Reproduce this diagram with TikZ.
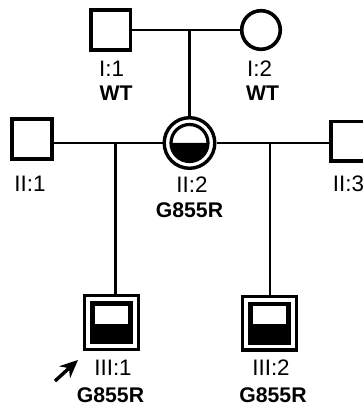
\documentclass[tikz,border=0pt]{standalone}
\usepackage{fontspec}
\setmainfont{Liberation Sans}
\usetikzlibrary{arrows.meta}

\begin{document}
\begin{tikzpicture}[x=0.5pt, y=-0.5pt,
    male/.style={rectangle, draw, line width=1.8pt, minimum size=19.8pt, inner sep=0pt},
    female/.style={circle, draw, line width=1.8pt, minimum size=19.3pt, inner sep=0pt},
    carrier/.style={circle, draw, line width=1.7pt, minimum size=25.3pt, inner sep=0pt,
        path picture={
            \fill[black] ([xshift=-9.25pt]path picture bounding box.center) arc[start angle=180, end angle=360, radius=9.25pt] -- cycle;
            \draw[line width=1.6pt] (path picture bounding box.center) circle[radius=9.25pt];
        }},
    affected/.style={rectangle, draw, line width=1.7pt, minimum size=26.8pt, inner sep=0pt,
        path picture={
            \fill[black] ([shift={(-10.75pt,-10.75pt)}]path picture bounding box.center) rectangle ++(21.5pt,21.5pt);
            \fill[white] ([shift={(-8.25pt,-0.5pt)}]path picture bounding box.center) rectangle ++(16.5pt,9pt);
        }},
    link/.style={line width=1.35pt},
    lab/.style={inner sep=0pt, font=\fontsize{11.2}{13}\selectfont},
    geno/.style={inner sep=0pt, font=\fontsize{10.6}{12}\selectfont\bfseries}
]
    \useasboundingbox (0,0) rectangle (363,406);

    % Generation I
    \node[male] (i1) at (110.5,30) {};
    \node[female] (i2) at (261,30) {};
    \node[lab] (i1l) at (111.5,68.5) {I:1};
    \node[geno] (i1g) at (116,93) {WT};
    \node[lab] (i2l) at (259.5,68.5) {I:2};
    \node[geno] (i2g) at (262.5,93) {WT};

    % Generation II
    \node[male] (ii1) at (32,139) {};
    \node[carrier] (ii2) at (189.5,143) {};
    \node[male] (ii3) at (351,141.5) {};
    \node[lab] (ii1l) at (30,183.5) {II:1};
    \node[lab] (ii2l) at (192,185) {II:2};
    \node[geno] (ii2g) at (189.5,210) {G855R};
    \node[lab] (ii3l) at (348.5,183.5) {II:3};

    % Generation III
    \node[affected] (iii1) at (111.5,322.5) {};
    \node[affected] (iii2) at (269.5,323) {};
    \node[lab] (iii1l) at (113,367.5) {III:1};
    \node[geno] (iii1g) at (110.5,395) {G855R};
    \node[lab] (iii2l) at (271,367.5) {III:2};
    \node[geno] (iii2g) at (273,395) {G855R};

    % Matings and lines of descent
    \coordinate (m1) at (189.5,30);
    \coordinate (d1) at (115.5,143);
    \coordinate (d2) at (270,143);
    \draw[link] (i1) -- (i2);
    \draw[link] (m1) -- (ii2);
    \draw[link] (ii1.east |- ii2) -- (ii2);
    \draw[link] (ii2) -- (ii3.west |- ii2);
    \draw[link] (d1) -- (d1 |- iii1.north);
    \draw[link] (d2) -- (d2 |- iii2.north);

    % Proband
    \coordinate (pa) at (55,381);
    \coordinate (pb) at (78,360);
    \draw[line width=1.7pt, -{Stealth[length=9pt, width=8pt]}] (pa) -- (pb);
\end{tikzpicture}
\end{document}
